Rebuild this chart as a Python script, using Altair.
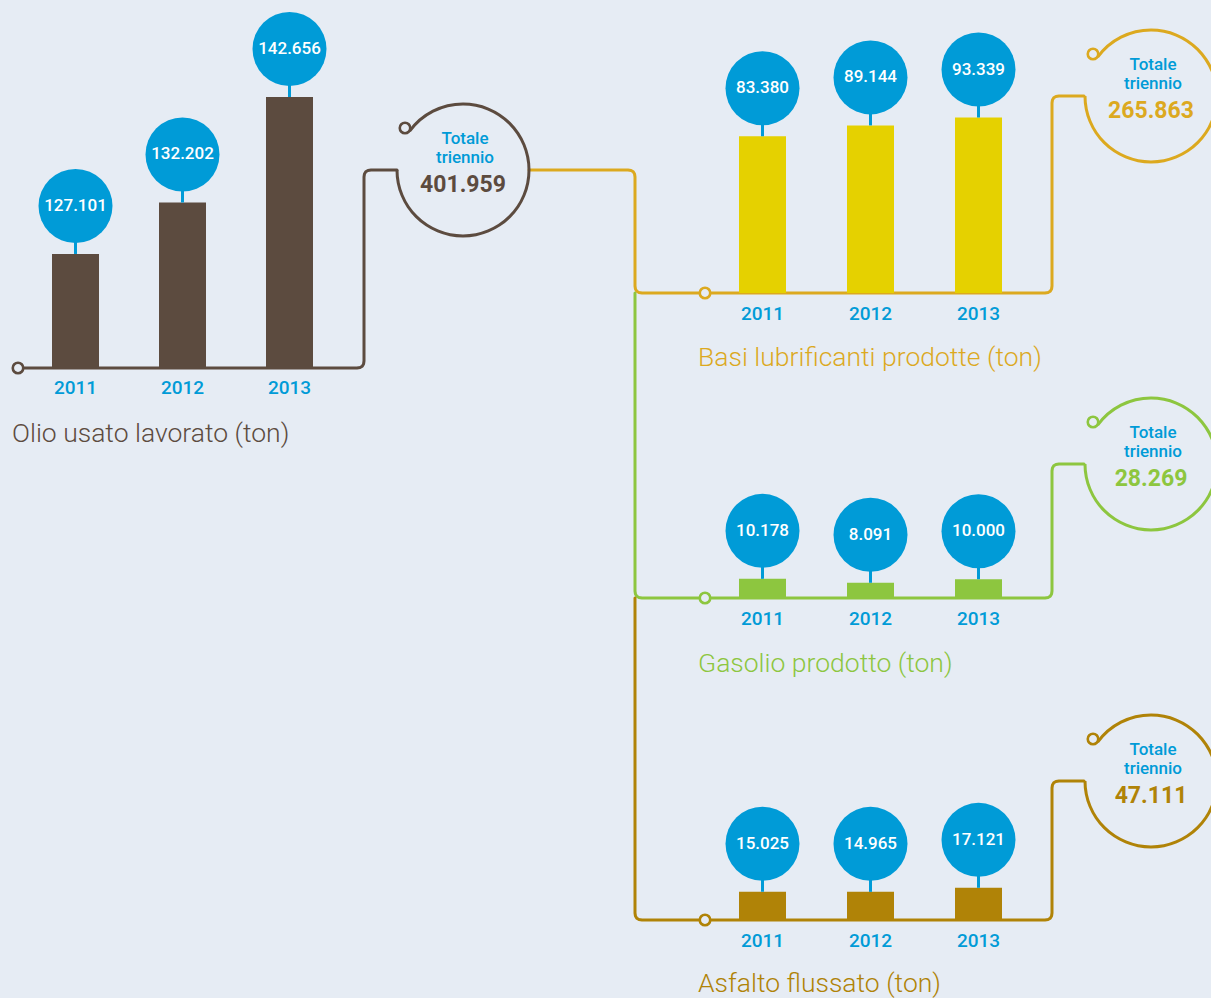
import math

import altair as alt
import pandas as pd

# ---------------------------------------------------------------- data
years = [2011, 2012, 2013]
olio_usato = [127101, 132202, 142656]
basi_lubrificanti = [83380, 89144, 93339]
gasolio = [10178, 8091, 10000]
asfalto = [15025, 14965, 17121]

titles = [
    "Olio usato lavorato (ton)",
    "Basi lubrificanti prodotte (ton)",
    "Gasolio prodotto (ton)",
    "Asfalto flussato (ton)",
]
total_caption = ["Totale", "triennio"]

# ---------------------------------------------------------------- style
W, H = 1211, 998
BG = "#e6ecf4"
BLUE = "#009bd7"
BROWN = "#5c4b3f"
GOLD = "#dca91f"
YELLOW = "#e5d100"
GREEN = "#8dc63f"
DARKGOLD = "#b08307"
FONT = "Roboto"


def it_num(v):
    """Italian thousands separator."""
    return f"{v:,}".replace(",", ".")


# pixel scales for the connector / caption layer
PX = alt.Scale(domain=[0, W], range=[0, W], nice=False, zero=False, padding=0)
PY = alt.Scale(domain=[0, H], range=[0, H], nice=False, zero=False, padding=0)

# ---------------------------------------------------------------- bar panels
panels = [
    dict(values=olio_usato, bar=BROWN, xr=[75.5, 289.5],
         ydom=[115900, 142656], yr=[367, 97]),
    dict(values=basi_lubrificanti, bar=YELLOW, xr=[762.5, 978.5],
         ydom=[0, 100000], yr=[293, 105]),
    dict(values=gasolio, bar=GREEN, xr=[762.5, 978.5],
         ydom=[0, 100000], yr=[598, 410]),
    dict(values=asfalto, bar=DARKGOLD, xr=[762.5, 978.5],
         ydom=[0, 100000], yr=[920, 732]),
]

BUBBLE_D = 74
BUBBLE_LIFT = 48


def panel(p):
    df = pd.DataFrame({
        "year": years,
        "value": p["values"],
        "base": p["ydom"][0],
        "label": [it_num(v) for v in p["values"]],
    })
    xs = alt.Scale(domain=[years[0], years[-1]], range=p["xr"], nice=False, zero=False, padding=0)
    ys = alt.Scale(domain=p["ydom"], range=p["yr"], nice=False, zero=False, padding=0)
    x = alt.X("year:Q", scale=xs, axis=None)
    y = alt.Y("value:Q", scale=ys, axis=None)
    base = alt.Chart(df)
    bars = base.mark_bar(width=47, color=p["bar"]).encode(x=x, y=y, y2="base:Q")
    stems = base.mark_rule(color=BLUE, strokeWidth=3, y2Offset=-(BUBBLE_LIFT - BUBBLE_D / 2 + 2)).encode(
        x=x, y=y, y2="value:Q")
    bubbles = base.mark_circle(size=BUBBLE_D * BUBBLE_D, color=BLUE, opacity=1,
                               yOffset=-BUBBLE_LIFT).encode(x=x, y=y)
    labels = base.mark_text(color="white", font=FONT, fontSize=17, fontWeight=500,
                            baseline="middle", yOffset=-BUBBLE_LIFT).encode(
        x=x, y=y, text="label:N")
    year_lbl = base.mark_text(color=BLUE, font=FONT, fontSize=19, fontWeight=500,
                              baseline="middle", dy=21).encode(
        x=x, y=alt.Y("base:Q", scale=ys, axis=None), text=alt.Text("year:Q", format="d"))
    return alt.layer(bars, stems, bubbles, labels, year_lbl)


# ---------------------------------------------------------------- connectors
def rounded(points, r=7):
    """Polyline with softened corners (quadratic curve at each bend)."""
    out = [points[0]]
    for i in range(1, len(points) - 1):
        (x0, y0), (x1, y1), (x2, y2) = points[i - 1], points[i], points[i + 1]
        l1 = math.hypot(x1 - x0, y1 - y0)
        l2 = math.hypot(x2 - x1, y2 - y1)
        ax, ay = x1 - (x1 - x0) / l1 * r, y1 - (y1 - y0) / l1 * r
        bx, by = x1 + (x2 - x1) / l2 * r, y1 + (y2 - y1) / l2 * r
        for t in (0, 0.25, 0.5, 0.75, 1):
            out.append(((1 - t) ** 2 * ax + 2 * (1 - t) * t * x1 + t * t * bx,
                        (1 - t) ** 2 * ay + 2 * (1 - t) * t * y1 + t * t * by))
    out.append(points[-1])
    return out


paths = [
    (BROWN, [(18, 368), (364, 368), (364, 170), (397, 170)]),
    (GOLD, [(529, 170), (635, 170), (635, 293), (1052, 293), (1052, 96), (1084, 96)]),
    (GREEN, [(635, 293), (635, 598), (1052, 598), (1052, 464), (1084, 464)]),
    (DARKGOLD, [(635, 598), (635, 920), (1052, 920), (1052, 781), (1084, 781)]),
]
rows = []
for k, (col, pts) in enumerate(paths):
    for j, (px, py) in enumerate(rounded(pts)):
        rows.append({"path": k, "order": j, "x": px, "y": py, "color": col})
lines_df = pd.DataFrame(rows)

rings_df = pd.DataFrame({
    "x": [18, 405, 705, 1093, 705, 1093, 705, 1093],
    "y": [368, 128, 293, 54, 598, 422, 920, 739],
    "color": [BROWN, BROWN, GOLD, GOLD, GREEN, GREEN, DARKGOLD, DARKGOLD],
})

totals = [sum(v) for v in (olio_usato, basi_lubrificanti, gasolio, asfalto)]
circles_df = pd.DataFrame({
    "cx": [463, 1151, 1151, 1151],
    "cy": [170, 96, 464, 781],
    "color": [BROWN, GOLD, GREEN, DARKGOLD],
    "total": [it_num(t) for t in totals],
})

cap_rows = []
for _, r in circles_df.iterrows():
    cap_rows.append({"x": r.cx + 2, "y": r.cy - 31, "text": total_caption[0]})
    cap_rows.append({"x": r.cx + 2, "y": r.cy - 12, "text": total_caption[1]})
cap_df = pd.DataFrame(cap_rows)

titles_df = pd.DataFrame({
    "x": [12, 698, 698, 698],
    "y": [434, 358, 664, 984],
    "text": titles,
    "color": [BROWN, GOLD, GREEN, DARKGOLD],
})

X = lambda f: alt.X(f"{f}:Q", scale=PX, axis=None)
Y = lambda f: alt.Y(f"{f}:Q", scale=PY, axis=None)
C = alt.Color("color:N", scale=None, legend=None)

lines = alt.Chart(lines_df).mark_line(strokeWidth=3, strokeJoin="round", strokeCap="round").encode(
    x=X("x"), y=Y("y"), detail="path:N", order="order:Q", color=C)

ANG_START = math.radians(306)
arc_a = alt.Chart(circles_df).mark_arc(theta=ANG_START, theta2=2 * math.pi,
                                       radius=67.5, radius2=64.5).encode(
    x=X("cx"), y=Y("cy"), color=C)
arc_b = alt.Chart(circles_df).mark_arc(theta=0, theta2=1.5 * math.pi,
                                       radius=67.5, radius2=64.5).encode(
    x=X("cx"), y=Y("cy"), color=C)

rings = alt.Chart(rings_df).mark_point(shape="circle", size=110, filled=False, fill=BG,
                                       fillOpacity=1, strokeWidth=2.6, opacity=1).encode(
    x=X("x"), y=Y("y"), stroke=alt.Stroke("color:N", scale=None, legend=None))

caption = alt.Chart(cap_df).mark_text(color=BLUE, font=FONT, fontSize=17, fontWeight=500,
                                      baseline="middle").encode(
    x=X("x"), y=Y("y"), text="text:N")

total_txt = alt.Chart(circles_df).mark_text(font=FONT, fontSize=23, fontWeight="bold",
                                            baseline="middle", dy=15).encode(
    x=alt.X("cx:Q", scale=PX, axis=None), y=Y("cy"), text="total:N", color=C)

title_txt = alt.Chart(titles_df).mark_text(font=FONT, fontSize=26.5, fontWeight=300,
                                           align="left", baseline="middle").encode(
    x=X("x"), y=Y("y"), text="text:N", color=C)

canvas = alt.layer(lines, arc_a, arc_b, rings, caption, total_txt, title_txt)

chart = alt.layer(canvas, *[panel(p) for p in panels]).resolve_scale(
    x="independent", y="independent"
).properties(
    width=W, height=H, background=BG, padding=0,
    autosize=alt.AutoSizeParams(type="none"),
).configure_view(stroke=None)

chart.save("out.html", embed_options={"renderer": "svg", "actions": False})
